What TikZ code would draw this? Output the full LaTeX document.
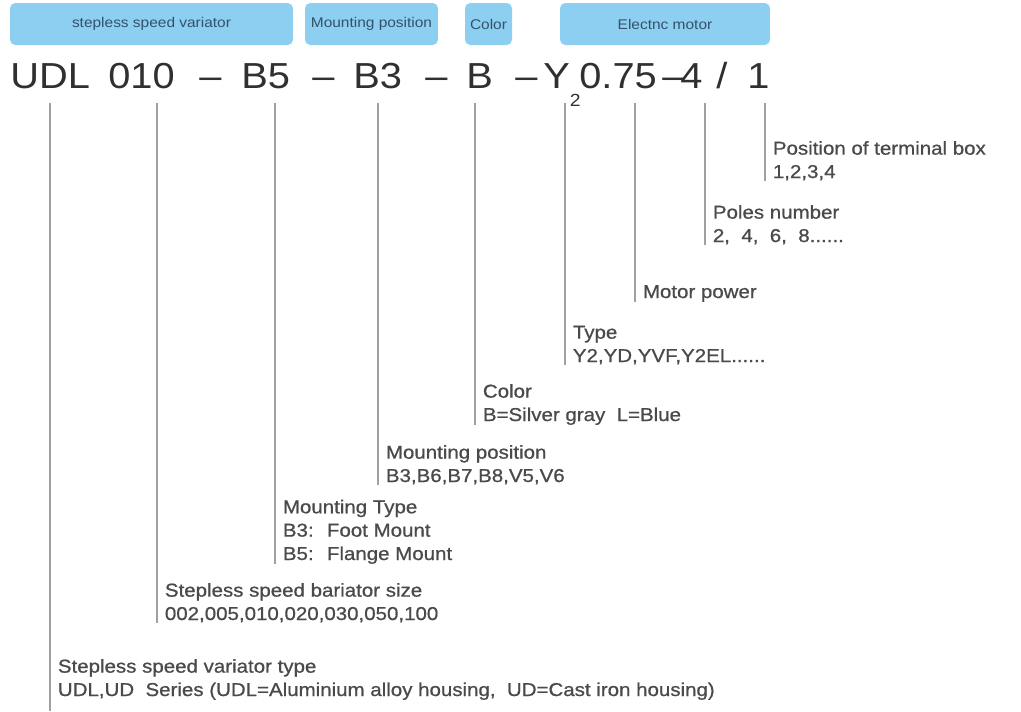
\documentclass[tikz,border=0pt]{standalone}
\usepackage{fontspec}
\setmainfont{Liberation Sans}
\newfontfamily\wideface[FakeStretch=1.1]{Liberation Sans}
\newfontfamily\descface[FakeStretch=1.1,FakeBold=0.8]{Liberation Sans}
\definecolor{tagblue}{HTML}{8DCFF1}
\definecolor{tagtext}{HTML}{34516B}
\definecolor{codegray}{HTML}{303030}
\definecolor{descgray}{HTML}{4A4A4A}
\definecolor{leadgray}{HTML}{A0A0A0}
\tikzset{
  tag/.style={fill=tagblue, rounded corners=3pt, text=tagtext, minimum height=0.84cm,
    inner sep=0pt, font=\wideface\fontsize{8}{9}\selectfont},
  code/.style={anchor=base west, inner sep=0pt, text=codegray,
    font=\wideface\fontsize{20.6}{24}\selectfont},
  desc/.style={anchor=base west, inner xsep=4.3pt, inner ysep=0pt, align=left,
    text=descgray, font=\descface\fontsize{10.6}{13.3}\selectfont},
  lead/.style={leadgray, line width=0.7pt},
}
\begin{document}
\begin{tikzpicture}[x=0.02cm, y=-0.02cm]
  \useasboundingbox (0,0) rectangle (1021,711);

  % headings
  \node[tag, minimum width=5.66cm] (tSSV) at (151.5,24) {stepless speed variator};
  \node[tag, minimum width=2.66cm] (tMP) at (371.5,24) {Mounting position};
  \node[tag, minimum width=0.94cm] (tCol) at (488.5,24) {Color};
  \node[tag, minimum width=4.2cm] (tMot) at (665,24) {Electnc motor};

  % model code
  \node[code] (cUDL) at (10,88) {UDL};
  \node[code] (cSize) at (108,88) {010};
  \node[code] (cDashA) at (199,88) {–};
  \node[code] (cMType) at (241,88) {B5};
  \node[code] (cDashB) at (312,88) {–};
  \node[code] (cMPos) at (353,88) {B3};
  \node[code] (cDashC) at (425,88) {–};
  \node[code] (cCol) at (466,88) {B};
  \node[code] (cDashD) at (515,88) {–};
  \node[code] (cType) at (543,88) {Y\raisebox{-0.37cm}{\fontsize{10}{10}\selectfont 2}};
  \node[code] (cPow) at (579,88) {0.75};
  \node[code] (cDashE) at (662,88) {–};
  \node[code] (cPole) at (680,88) {4};
  \node[code] (cSlash) at (716,88) {/};
  \node[code] (cTB) at (747,88) {1};

  \coordinate (top) at (0,103);

  % descriptions (placed at the baseline of their last line)
  \node[desc] (dTB) at (765,178) {Position of terminal box\\1,2,3,4};
  \node[desc] (dPole) at (705,242) {Poles number\\2,~ 4,~ 6,~ 8......};
  \node[desc] (dPow) at (635,298) {Motor power};
  \node[desc] (dType) at (565,362) {Type\\Y2,YD,YVF,Y2EL......};
  \node[desc] (dCol) at (475,421) {Color\\B=Silver gray~ L=Blue};
  \node[desc] (dMPos) at (378,482) {Mounting position\\B3,B6,B7,B8,V5,V6};
  \node[desc] (dMType) at (275,560) {Mounting Type\\B3:~ Foot Mount\\B5:~ Flange Mount};
  \node[desc] (dSize) at (157,620) {Stepless speed bariator size\\002,005,010,020,030,050,100};
  \node[desc] (dUDL) at (50,696) {Stepless speed variator type\\UDL,UD~ Series (UDL=Aluminium alloy housing,~ UD=Cast iron housing)};

  % leader lines
  \draw[lead] (top -| dTB.west) -- (dTB.south west);
  \draw[lead] (top -| dPole.west) -- (dPole.south west);
  \draw[lead] (top -| dPow.west) -- (dPow.south west);
  \draw[lead] (top -| dType.west) -- (dType.south west);
  \draw[lead] (top -| dCol.west) -- (dCol.south west);
  \draw[lead] (top -| dMPos.west) -- (dMPos.south west);
  \draw[lead] (top -| dMType.west) -- (dMType.south west);
  \draw[lead] (top -| dSize.west) -- (dSize.south west);
  \draw[lead] (top -| dUDL.west) -- (dUDL.west |- 0,711);
\end{tikzpicture}
\end{document}
